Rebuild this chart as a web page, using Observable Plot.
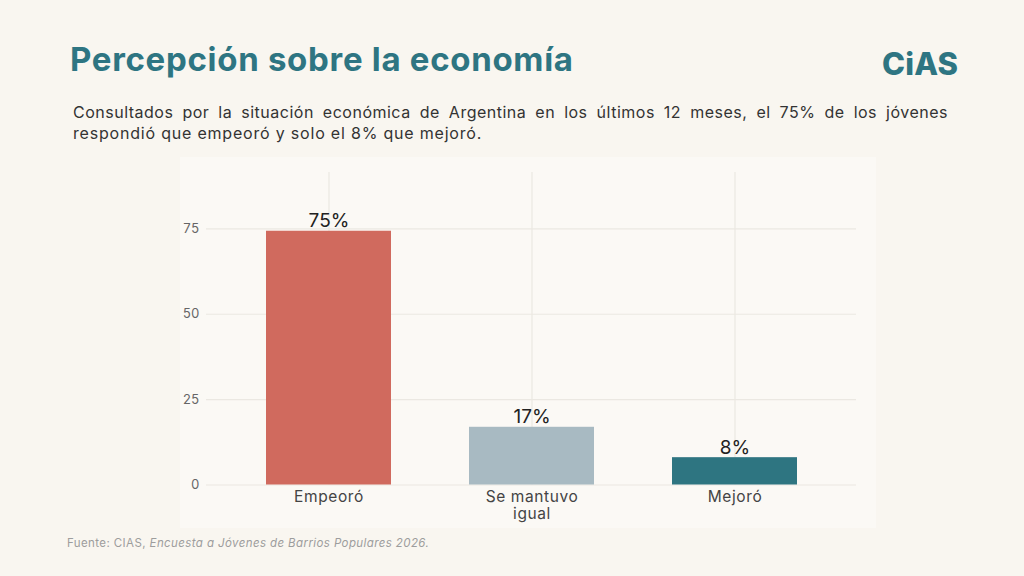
<!DOCTYPE html>
<html><head><meta charset="utf-8">
<script src="https://cdn.jsdelivr.net/npm/d3@7"></script>
<script src="https://cdn.jsdelivr.net/npm/@observablehq/plot@0.6"></script>
<style>
html,body{margin:0;padding:0;background:#f9f6f0;}
#page{position:relative;width:1024px;height:576px;overflow:hidden;background:#f9f6f0;font-family:Inter,"Open Sans",sans-serif;}
#title{position:absolute;left:70px;top:43px;font-size:33px;line-height:33px;font-weight:700;color:#2e7582;white-space:nowrap;letter-spacing:0.7px;}
#logo{position:absolute;left:882px;top:48px;font-size:31px;line-height:31px;font-weight:800;color:#2e7582;letter-spacing:0.2px;}
#sub{position:absolute;left:73px;top:102px;width:875px;font-size:16px;line-height:21px;color:#333;letter-spacing:0.8px;}
#sub .l1{text-align:justify;text-align-last:justify;letter-spacing:0.5px;}
#panel{position:absolute;left:180px;top:157px;width:696px;height:371px;background:#fbf9f5;}
#chart{position:absolute;left:150px;top:150px;}
#cap{position:absolute;left:67px;top:537px;font-size:11.5px;line-height:12px;color:#9d9d9d;white-space:nowrap;letter-spacing:0.4px;}
</style>
</head><body>
<div id="page">
  <div id="title">Percepción sobre la economía</div>
  <div id="logo">CiAS</div>
  <div id="sub"><div class="l1">Consultados por la situación económica de Argentina en los últimos 12 meses, el 75% de los jóvenes</div><div>respondió que empeoró y solo el 8% que mejoró.</div></div>
  <div id="panel"></div>
  <div id="chart"></div>
  <div id="cap">Fuente: CIAS, <i>Encuesta a Jóvenes de Barrios Populares 2026.</i></div>
</div>
<script>
const categories = ["Empeoró", "Se mantuvo igual", "Mejoró"];
const values = [74.3, 16.9, 8.0];
const valueLabels = ["75%", "17%", "8%"];
const barColors = ["#d06a5e", "#a8bac2", "#2e7581"];
const yTicks = [0, 25, 50, 75];
const xTickLabels = ["Empeoró", "Se mantuvo\nigual", "Mejoró"];

const data = categories.map((c, i) => ({cat: c, value: values[i], label: valueLabels[i], color: barColors[i]}));

const chart = Plot.plot({
  width: 726,
  height: 380,
  marginLeft: 56,
  marginRight: 20,
  marginTop: 22,
  marginBottom: 45.5,
  style: {background: "transparent", fontFamily: "Inter, 'Open Sans', sans-serif", overflow: "visible"},
  x: {domain: categories, paddingInner: 0.385, paddingOuter: 0.2925, label: null},
  y: {domain: [0, 91.5], label: null},
  marks: [
    Plot.gridY(yTicks, {stroke: "#ebe8e2", strokeOpacity: 1, strokeWidth: 1.2}),
    Plot.gridX(categories, {stroke: "#ebe8e2", strokeOpacity: 1, strokeWidth: 1.2}),
    Plot.barY(data, {x: "cat", y: "value", fill: d => d.color}),
    Plot.text(data, {x: "cat", y: "value", text: "label", dy: -4, lineAnchor: "bottom", fontSize: 19, fill: "#222"}),
    Plot.axisY(yTicks, {tickSize: 0, tickPadding: 7, fontSize: 13, fill: "#666", label: null}),
    Plot.axisX(categories, {tickSize: 0, tickPadding: 4, fontSize: 15.5, fill: "#444", label: null, lineHeight: 1.15,
      tickFormat: d => xTickLabels[categories.indexOf(d)]})
  ]
});
chart.querySelectorAll("g[aria-label='x-axis tick label'] text").forEach(t => t.style.letterSpacing = "0.6px");
document.getElementById("chart").appendChild(chart);
</script>
</body></html>
